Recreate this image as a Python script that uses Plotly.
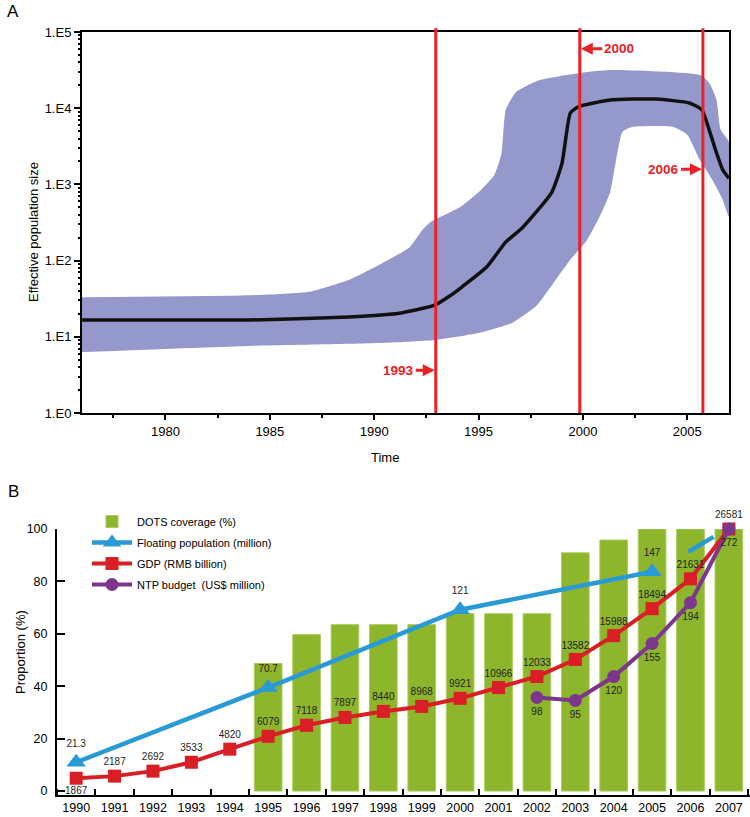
import plotly.graph_objects as go

# ---------------- Panel A data ----------------
med_year = [1976.0, 1984.0, 1988.8, 1991.2, 1992.9, 1993.6, 1994.2, 1995.4, 1996.3, 1997.1,
            1998.5, 1999.0, 1999.4, 1999.8, 2001.3, 2003.5, 2005.1, 2005.7, 2006.05, 2006.4,
            2006.7, 2007.0]
med_ne = [16.6, 16.6, 18.2, 20.4, 26, 34, 45, 83, 175, 270,
          780, 1900, 8700, 10500, 12800, 13200, 11700, 9500, 5200, 2600,
          1550, 1200]
upper_year = [1976.0, 1984.0, 1986.9, 1988.8, 1990.4, 1991.7, 1992.3, 1992.7, 1994.1, 1995.0,
              1995.75, 1996.1, 1996.3, 1996.8, 1997.9, 1999.8, 2001.3, 2005.6, 2006.05, 2006.4,
              2006.6, 2007.0]
upper_ne = [33, 35, 39, 56, 93, 150, 250, 320, 500, 790,
            1320, 2560, 9500, 16300, 23300, 28800, 31700, 27300, 21600, 12900,
            5200, 3600]
lower_year = [1976.0, 1984.0, 1990.25, 1992.9, 1995.0, 1996.6, 1997.8, 1998.7, 1999.4, 2000.2,
              2000.8, 2001.3, 2001.9, 2002.4, 2004.3, 2005.0, 2005.6, 2006.2, 2006.7, 2007.0]
lower_ne = [6.3, 7.6, 8.3, 9.1, 11.2, 15.2, 26, 56, 103, 187,
            375, 780, 4900, 5700, 5700, 4500, 2100, 1150, 630, 375]

event_years = [1992.95, 1999.85, 2005.75]
event_labels = ["1993", "2000", "2006"]

a_xticks = [1980, 1985, 1990, 1995, 2000, 2005]
a_yticks = [1, 10, 100, 1000, 10000, 100000]
a_yticktext = ["1.E0", "1.E1", "1.E2", "1.E3", "1.E4", "1.E5"]

# ---------------- Panel B data ----------------
years = list(range(1990, 2008))
dots_years = list(range(1995, 2008))
dots_cov = [48.7, 59.7, 63.5, 63.5, 63.5, 67.7, 67.7, 67.7, 90.9, 95.8, 100, 100, 100]

float_years = [1990, 1995, 2000, 2005]
float_prop = [11.0, 39.5, 69.2, 83.7]
float_labels = ["21.3", "70.7", "121", "147"]
float_tail_years = [2005.94, 2006.6]
float_tail_prop = [91.3, 97.0]

gdp_prop = [4.9, 5.7, 7.6, 11.0, 16.0, 20.9, 25.1, 28.1, 30.4, 32.3,
            35.4, 39.5, 43.7, 50.2, 59.3, 69.6, 81.0, 100.0]
gdp_labels = ["1867", "2187", "2692", "3533", "4820", "6079", "7118", "7897", "8440", "8968",
              "9921", "10966", "12033", "13582", "15988", "18494", "21631", "26581"]

ntp_years = [2002, 2003, 2004, 2005, 2006, 2007]
ntp_prop = [35.7, 34.6, 43.7, 56.3, 71.9, 100.0]
ntp_labels = ["98", "95", "120", "155", "194", "272"]

b_yticks = [0, 20, 40, 60, 80, 100]

# ---------------- styles ----------------
FONT = "Arial, Liberation Sans, sans-serif"
BAND = "#9498CB"
EVENT_RED = "#EA2127"
GREEN = "#8DB62C"
BLUE = "#2A9AD6"
RED = "#D91E25"
PURPLE = "#7C378D"
LABEL = "#231F20"

fig = go.Figure()

# Panel A: HPD band
fig.add_trace(go.Scatter(
    x=upper_year + lower_year[::-1], y=upper_ne + lower_ne[::-1],
    mode="lines", fill="toself", fillcolor=BAND,
    line=dict(width=0, color=BAND, shape="spline", smoothing=0.5),
    xaxis="x", yaxis="y", showlegend=False, hoverinfo="skip"))
# median
fig.add_trace(go.Scatter(
    x=med_year, y=med_ne, mode="lines",
    line=dict(color="#111111", width=3.5, shape="spline", smoothing=0.5),
    xaxis="x", yaxis="y", showlegend=False))

shapes = []
for yr in event_years:
    shapes.append(dict(type="line", xref="x", yref="y domain", x0=yr, x1=yr, y0=0, y1=1.01,
                       line=dict(color=EVENT_RED, width=3)))

annotations = []
ev_pos = [(0.56, -37), (4.78, 39), (3.2, -39)]
for yr, lab, (ly, ax) in zip(event_years, event_labels, ev_pos):
    annotations.append(dict(x=yr, y=ly, xref="x", yref="y", text=lab, showarrow=True,
                            ax=ax, ay=0, arrowhead=2, arrowsize=0.8, arrowwidth=3,
                            arrowcolor=EVENT_RED, standoff=1,
                            font=dict(family=FONT, size=13.5, color=EVENT_RED, weight="bold")))

# Panel B
fig.add_trace(go.Bar(
    x=dots_years, y=dots_cov, width=0.72,
    marker=dict(color=GREEN, line=dict(color="#AACB5E", width=1)),
    name="DOTS coverage (%)", legendgroup="g1",
    xaxis="x2", yaxis="y2", cliponaxis=False))
fig.add_trace(go.Scatter(
    x=float_years, y=float_prop, mode="lines+markers", name="Floating population (million)",
    legendgroup="g2",
    line=dict(color=BLUE, width=4.5), marker=dict(symbol="triangle-up", size=17, color=BLUE),
    xaxis="x2", yaxis="y2", cliponaxis=False))
fig.add_trace(go.Scatter(
    x=float_tail_years, y=float_tail_prop, mode="lines", showlegend=False, legendgroup="g2",
    line=dict(color=BLUE, width=4.5), xaxis="x2", yaxis="y2"))
fig.add_trace(go.Scatter(
    x=years, y=gdp_prop, mode="lines+markers", name="GDP (RMB billion)", legendgroup="g3",
    line=dict(color=RED, width=4), marker=dict(symbol="square", size=13, color=RED),
    xaxis="x2", yaxis="y2", cliponaxis=False))
fig.add_trace(go.Scatter(
    x=ntp_years, y=ntp_prop, mode="lines+markers", name="NTP budget\u00a0 (US$ million)",
    legendgroup="g4",
    line=dict(color=PURPLE, width=4), marker=dict(symbol="circle", size=13, color=PURPLE),
    xaxis="x2", yaxis="y2", cliponaxis=False))

# value labels (invisible markers keep the text clear of the symbols)
lab_font = dict(family=FONT, size=10, color=LABEL)
ghost = lambda s: dict(size=s, color="rgba(0,0,0,0)")
fig.add_trace(go.Scatter(x=float_years, y=float_prop, mode="markers+text", text=float_labels,
                         marker=ghost(19), textposition="top center", textfont=lab_font,
                         showlegend=False, hoverinfo="skip",
                         xaxis="x2", yaxis="y2", cliponaxis=False))
fig.add_trace(go.Scatter(x=years, y=gdp_prop, mode="markers+text", text=gdp_labels,
                         marker=ghost(12),
                         textposition=["bottom center"] + ["top center"] * (len(years) - 1),
                         textfont=lab_font, showlegend=False, hoverinfo="skip",
                         xaxis="x2", yaxis="y2", cliponaxis=False))
fig.add_trace(go.Scatter(x=ntp_years, y=ntp_prop, mode="markers+text", text=ntp_labels,
                         marker=ghost(14), textposition="bottom center", textfont=lab_font,
                         showlegend=False, hoverinfo="skip",
                         xaxis="x2", yaxis="y2", cliponaxis=False))

W, H = 750, 817
page_ann = [
    dict(text="A", x=13, y=12, font=dict(family=FONT, size=17, color="black")),
    dict(text="B", x=13, y=492, font=dict(family=FONT, size=17, color="black")),
    dict(text="Effective population size", x=33, y=232, textangle=-90,
         font=dict(family=FONT, size=13, color="black")),
    dict(text="Time", x=385, y=457, font=dict(family=FONT, size=13, color="black")),
    dict(text="Proportion (%)", x=20, y=652, textangle=-90,
         font=dict(family=FONT, size=13, color="black")),
]
for a in page_ann:
    a.update(xref="paper", yref="paper", showarrow=False, xanchor="center", yanchor="middle",
             x=a["x"] / W, y=1 - a["y"] / H)
annotations += page_ann

tick_font = dict(family=FONT, size=13, color="black")
fig.update_layout(
    width=W, height=H, margin=dict(l=0, r=0, t=0, b=0, autoexpand=False),
    paper_bgcolor="white", plot_bgcolor="white",
    font=dict(family=FONT, color="black"),
    shapes=shapes, annotations=annotations,
    xaxis=dict(domain=[82 / W, 729 / W], range=[1976, 2007], tickvals=a_xticks,
               ticks="outside", ticklen=5, tickwidth=2, tickcolor="black",
               minor=dict(dtick=2.5, tick0=1977.5, ticks="outside", ticklen=3, tickwidth=2,
                          tickcolor="black"),
               showline=True, linewidth=2, linecolor="black", mirror=True, automargin=False,
               showgrid=False, zeroline=False, tickfont=tick_font),
    yaxis=dict(domain=[1 - 413 / H, 1 - 32 / H], type="log", range=[0, 5],
               tickvals=a_yticks, ticktext=a_yticktext,
               ticks="outside", ticklen=6, tickwidth=2, tickcolor="black",
               minor=dict(dtick="D1", ticks="outside", ticklen=2, tickwidth=2, tickcolor="black"),
               showline=True, linewidth=2, linecolor="black", mirror=True, automargin=False,
               showgrid=False, zeroline=False, tickfont=tick_font),
    xaxis2=dict(domain=[57 / W, 1.0], range=[1989.5, 2007.55], tickvals=years,
                ticktext=[str(y) for y in years], ticks="",
                minor=dict(tick0=1990.5, dtick=1, ticks="inside", ticklen=6, tickwidth=1.5,
                           tickcolor="black"),
                showline=True, linewidth=2, linecolor="black", showgrid=False, zeroline=False,
                automargin=False,
                tickfont=dict(family=FONT, size=12.5, color="black"), anchor="y2"),
    yaxis2=dict(domain=[1 - 795 / H, 1 - 529 / H], range=[-1.5, 100], tickvals=b_yticks,
                ticks="inside", ticklen=8, tickwidth=2, tickcolor="black",
                showline=True, linewidth=2, linecolor="black", showgrid=False, zeroline=False,
                automargin=False,
                tickfont=dict(family=FONT, size=12.5, color="black"), ticklabelstandoff=5,
                anchor="x2"),
    legend=dict(x=87 / W, y=1 - 507 / H, xanchor="left", yanchor="top",
                bgcolor="rgba(0,0,0,0)", traceorder="grouped",
                font=dict(family=FONT, size=11, color="black"), itemwidth=40, tracegroupgap=2),
    bargap=0.3,
)

fig.write_html("out.html", config={"displayModeBar": False},
               post_script="document.body.style.margin='0';")
